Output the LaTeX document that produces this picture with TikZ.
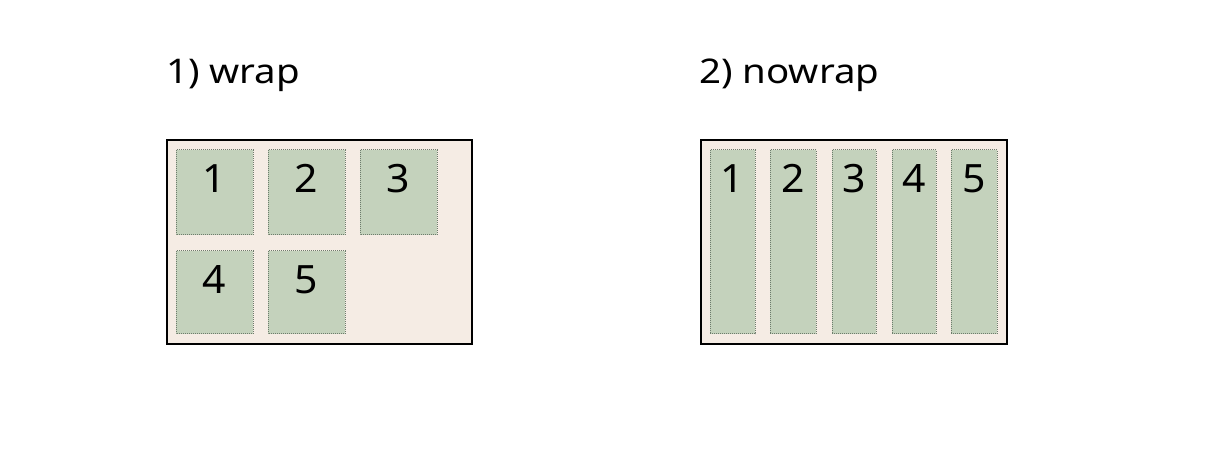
\documentclass[tikz,border=0pt]{standalone}
\usepackage{fontspec}
\setmainfont{Noto Sans}
\newfontfamily\titlefont[FakeStretch=1.13]{Noto Sans}
\newfontfamily\numfont[FakeStretch=1.05]{Noto Sans}
\definecolor{cbg}{HTML}{F5ECE4}
\definecolor{itemfill}{HTML}{C4D2BC}
\definecolor{itemline}{HTML}{6E7C6C}
\begin{document}
\begin{tikzpicture}[x=1pt,y=-1pt,
  container/.style={draw=black,line width=1.2pt,fill=cbg},
  item/.style={draw=itemline,dash pattern=on 1pt off 1pt,line width=1pt,fill=itemfill},
  num/.style={font=\numfont\fontsize{39}{42}\selectfont,anchor=base,inner sep=0pt},
  title/.style={font=\titlefont\fontsize{34}{36}\selectfont,anchor=base west,inner sep=0pt}]
\useasboundingbox (0,0) rectangle (1232,470);
% titles
\node[title] (t1) at (166,84) {1) wrap};
\node[title] (t2) at (699,84) {2) nowrap};
% wrap container
\draw[container] (167,140) rectangle (472,344);
\foreach \i/\xa/\xb/\ya/\yb in {1/176/253/150/235, 2/268/345/150/235, 3/360/437/150/235, 4/176/253/251/334, 5/268/345/251/334}{
  \draw[item] (\xa,\ya) rectangle (\xb,\yb);
  \node[num] (w\i) at ({(\xa+\xb)/2},{\ya+43}) {\i};
}
% nowrap container
\draw[container] (701,140) rectangle (1007,344);
\foreach \i/\xa/\xb in {1/710/755, 2/770/816, 3/832/876, 4/892/936, 5/951/997}{
  \draw[item] (\xa,150) rectangle (\xb,334);
  \node[num] (n\i) at ({(\xa+\xb)/2},193) {\i};
}
\end{tikzpicture}
\end{document}
